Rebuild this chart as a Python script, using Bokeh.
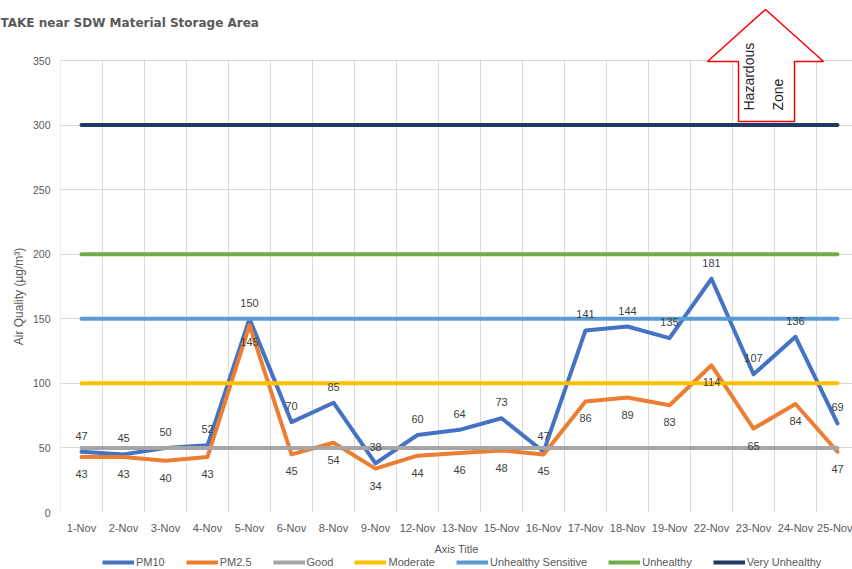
import math
from bokeh.plotting import figure
from bokeh.models import Range1d, FixedTicker, Label, Legend, LegendItem, GridBox
from bokeh.embed import file_html
from bokeh.resources import INLINE
from bokeh.core.properties import value

# ---------------- data ----------------
dates = ["1-Nov", "2-Nov", "3-Nov", "4-Nov", "5-Nov", "6-Nov", "8-Nov", "9-Nov",
         "12-Nov", "13-Nov", "15-Nov", "16-Nov", "17-Nov", "18-Nov", "19-Nov",
         "22-Nov", "23-Nov", "24-Nov", "25-Nov"]
pm10 = [47, 45, 50, 52, 150, 70, 85, 38, 60, 64, 73, 47, 141, 144, 135, 181, 107, 136, 69]
pm25 = [43, 43, 40, 43, 145, 45, 54, 34, 44, 46, 48, 45, 86, 89, 83, 114, 65, 84, 47]
level_values = [50, 100, 150, 200, 300]
level_names = ["Good", "Moderate", "Unhealthy Sensitive", "Unhealthy", "Very Unhealthy"]
y_ticks = [0, 50, 100, 150, 200, 250, 300, 350]

title_text = "TAKE near SDW Material  Storage Area"
y_title = "Air Quality (\u00b5g/m\u00b3)"
x_title = "Axis Title"
zone_lines = ["Hazardous", "Zone"]

# ---------------- styles ----------------
FONT = "Liberation Sans"
TXT = "#595959"
GRID = "#D9D9D9"
c_pm10 = "#4472C4"
c_pm25 = "#ED7D31"
level_colors = ["#A5A5A5", "#FFC000", "#5B9BD5", "#70AD47", "#203864"]
LW = 4

W, H = 852, 569
FL, FB = 60, 512          # frame left / bottom (px)
CAT_PX = 42.0             # px per category
Y_PX = 452.0 / 350.0      # px per unit


def dx(px):
    return -0.5 + (px - FL) / CAT_PX


def dy(py):
    return (FB - py) / Y_PX


n = len(dates)
xs = list(range(n))

# ================= main chart =================
p = figure(width=W, height=H,
           x_range=Range1d(-0.5, dx(W)), y_range=Range1d(0, dy(0)),
           output_backend="svg", toolbar_location=None,
           min_border_left=FL, min_border_right=0, min_border_top=0,
           min_border_bottom=H - FB)
p.outline_line_color = None
p.background_fill_color = "white"
p.border_fill_color = "white"
p.frame_align = False

# axes
p.xaxis.ticker = FixedTicker(ticks=xs)
p.xaxis.major_label_overrides = {i: d for i, d in enumerate(dates)}
p.xaxis.axis_line_color = None
p.xaxis.major_tick_line_color = None
p.xaxis.minor_tick_line_color = None
p.xaxis.major_tick_out = 0
p.xaxis.major_tick_in = 0
p.xaxis.major_label_standoff = 9
p.xaxis.major_label_text_font = FONT
p.xaxis.major_label_text_font_size = "11px"
p.xaxis.major_label_text_color = TXT
p.xaxis.axis_label = x_title
p.xaxis.axis_label_standoff = 6
p.xaxis.axis_label_text_font = FONT
p.xaxis.axis_label_text_font_size = "11px"
p.xaxis.axis_label_text_font_style = "normal"
p.xaxis.axis_label_text_color = TXT

p.yaxis.ticker = FixedTicker(ticks=y_ticks)
p.yaxis.axis_line_color = None
p.yaxis.major_tick_line_color = None
p.yaxis.minor_tick_line_color = None
p.yaxis.major_tick_out = 0
p.yaxis.major_tick_in = 0
p.yaxis.major_label_standoff = 10
p.yaxis.major_label_text_font = FONT
p.yaxis.major_label_text_font_size = "10.5px"
p.yaxis.major_label_text_color = TXT

# grid
p.xgrid.visible = False
p.ygrid.ticker = FixedTicker(ticks=y_ticks)
p.ygrid.grid_line_color = GRID
bounds = [k - 0.5 for k in range(n + 1)]
p.segment(x0=bounds, y0=[y_ticks[0]] * len(bounds), x1=bounds, y1=[y_ticks[-1]] * len(bounds),
          line_color=GRID, line_width=1, level="underlay")

# hazardous zone arrow (decoration)
ax = [dx(765), dx(823), dx(794), dx(794), dx(738), dx(738), dx(707)]
ay = [dy(9), dy(61), dy(61), dy(121), dy(121), dy(61), dy(61)]
p.patch(ax, ay, fill_color="white", line_color="#FF0000", line_width=1.5)
for txt, px in zip(zone_lines, [748, 777]):
    p.add_layout(Label(x=dx(px), y=dy(110), text=txt, angle=math.pi / 2,
                       text_align="left", text_baseline="middle",
                       text_font=FONT, text_font_size="14px", text_color="#262626"))

# series
r10 = p.line(xs, pm10, line_color=c_pm10, line_width=LW, line_join="round", line_cap="round")
r25 = p.line(xs, pm25, line_color=c_pm25, line_width=LW, line_join="round", line_cap="round")
for v, c in zip(level_values, level_colors):
    p.line(xs, [v] * n, line_color=c, line_width=LW, line_cap="round")

# data labels
p.text(x=xs, y=pm10, text=[str(v) for v in pm10], y_offset=-16,
       text_align="center", text_baseline="middle",
       text_font=value(FONT), text_font_size="11px", text_color="#404040")
p.text(x=xs, y=pm25, text=[str(v) for v in pm25], y_offset=17,
       text_align="center", text_baseline="middle",
       text_font=value(FONT), text_font_size="11px", text_color="#404040")

# ================= transparent overlay for title / y title / legend =================
ov = figure(width=W, height=H, x_range=Range1d(0, W), y_range=Range1d(H, 0),
            output_backend="svg", toolbar_location=None,
            x_axis_type=None, y_axis_type=None, min_border=0)
ov.outline_line_color = None
ov.background_fill_alpha = 0
ov.border_fill_alpha = 0
ov.frame_align = False

ov.add_layout(Label(x=0, y=22, text=title_text, text_align="left",
                    text_baseline="middle", text_font="DejaVu Sans", text_font_size="12px",
                    text_font_style="bold", text_color=TXT))
ov.add_layout(Label(x=18, y=296, text=y_title, angle=math.pi / 2,
                    text_align="center", text_baseline="middle",
                    text_font=FONT, text_font_size="12px", text_color=TXT))

series_names = ["PM10", "PM2.5"] + level_names
series_colors = [c_pm10, c_pm25] + level_colors
items = []
for nm, c in zip(series_names, series_colors):
    # legend proxy renderer, kept outside the visible range
    r = ov.line(x=[-100, -90], y=[-100, -100], line_color=c, line_width=LW)
    items.append(LegendItem(label=nm, renderers=[r]))
legend = Legend(items=items, orientation="horizontal", location=(102, 1),
                margin=0, padding=1, spacing=21, glyph_width=32, glyph_height=12,
                label_height=12, label_standoff=2,
                label_text_font=FONT, label_text_font_size="11px", label_text_color=TXT,
                border_line_color=None, background_fill_alpha=0)
ov.add_layout(legend, "center")

layout = GridBox(children=[(p, 0, 0), (ov, 0, 0)])

open("out.html", "w").write(file_html(layout, INLINE))
